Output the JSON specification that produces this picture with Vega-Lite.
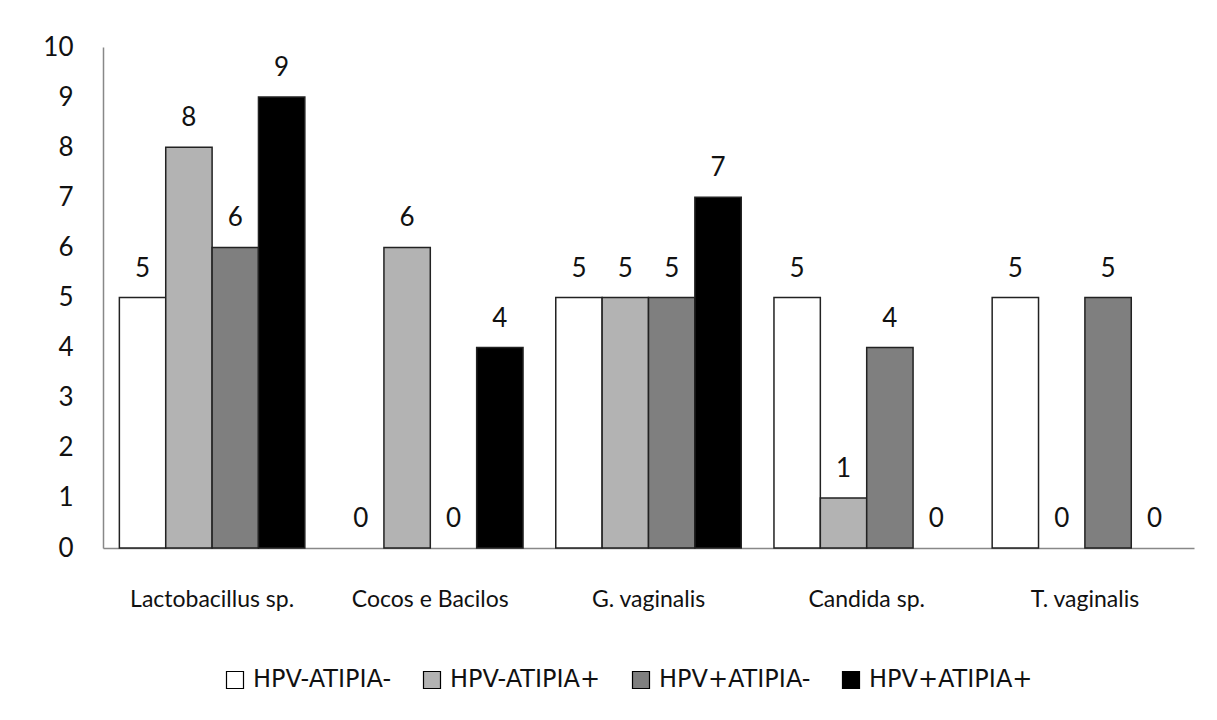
{
  "$schema": "https://vega.github.io/schema/vega-lite/v6.json",
  "width": 1091,
  "height": 501,
  "autosize": {"type": "none"},
  "padding": {"left": 103, "top": 47, "right": 23, "bottom": 172},
  "background": "white",
  "config": {
    "view": {"stroke": null},
    "font": "Lato",
    "axis": {"grid": false, "ticks": false, "domainColor": "#888888", "domainWidth": 1.5, "labelColor": "#111111", "labelFont": "Lato", "labelFontSize": 23, "title": null}
  },
  "data": {
    "values": [
      {"cat": "Lactobacillus sp.", "grupo": "HPV-ATIPIA-", "n": 5},
      {"cat": "Lactobacillus sp.", "grupo": "HPV-ATIPIA+", "n": 8},
      {"cat": "Lactobacillus sp.", "grupo": "HPV+ATIPIA-", "n": 6},
      {"cat": "Lactobacillus sp.", "grupo": "HPV+ATIPIA+", "n": 9},
      {"cat": "Cocos e Bacilos", "grupo": "HPV-ATIPIA-", "n": 0},
      {"cat": "Cocos e Bacilos", "grupo": "HPV-ATIPIA+", "n": 6},
      {"cat": "Cocos e Bacilos", "grupo": "HPV+ATIPIA-", "n": 0},
      {"cat": "Cocos e Bacilos", "grupo": "HPV+ATIPIA+", "n": 4},
      {"cat": "G. vaginalis", "grupo": "HPV-ATIPIA-", "n": 5},
      {"cat": "G. vaginalis", "grupo": "HPV-ATIPIA+", "n": 5},
      {"cat": "G. vaginalis", "grupo": "HPV+ATIPIA-", "n": 5},
      {"cat": "G. vaginalis", "grupo": "HPV+ATIPIA+", "n": 7},
      {"cat": "Candida sp.", "grupo": "HPV-ATIPIA-", "n": 5},
      {"cat": "Candida sp.", "grupo": "HPV-ATIPIA+", "n": 1},
      {"cat": "Candida sp.", "grupo": "HPV+ATIPIA-", "n": 4},
      {"cat": "Candida sp.", "grupo": "HPV+ATIPIA+", "n": 0},
      {"cat": "T. vaginalis", "grupo": "HPV-ATIPIA-", "n": 5},
      {"cat": "T. vaginalis", "grupo": "HPV-ATIPIA+", "n": 0},
      {"cat": "T. vaginalis", "grupo": "HPV+ATIPIA-", "n": 5},
      {"cat": "T. vaginalis", "grupo": "HPV+ATIPIA+", "n": 0}
    ]
  },
  "encoding": {
    "x": {
      "field": "cat", "type": "nominal", "sort": null,
      "scale": {"paddingInner": 0.15, "paddingOuter": 0.075},
      "axis": {"labelAngle": 0, "labelPadding": 40, "domainColor": "#888888"}
    },
    "xOffset": {
      "field": "grupo", "type": "nominal",
      "sort": ["HPV-ATIPIA-", "HPV-ATIPIA+", "HPV+ATIPIA-", "HPV+ATIPIA+"],
      "scale": {"domain": ["HPV-ATIPIA-", "HPV-ATIPIA+", "HPV+ATIPIA-", "HPV+ATIPIA+"], "paddingInner": 0, "paddingOuter": 0}
    },
    "y": {
      "field": "n", "type": "quantitative",
      "scale": {"domain": [0, 10], "nice": false},
      "axis": {"values": [0,1,2,3,4,5,6,7,8,9,10], "labelPadding": 30, "labelFontSize": 26}
    }
  },
  "layer": [
    {
      "transform": [{"filter": "datum.n > 0"}],
      "mark": {"type": "bar", "stroke": "#222222", "strokeWidth": 1.5},
      "encoding": {
        "color": {
          "field": "grupo", "type": "nominal",
          "sort": ["HPV-ATIPIA-", "HPV-ATIPIA+", "HPV+ATIPIA-", "HPV+ATIPIA+"],
          "scale": {"domain": ["HPV-ATIPIA-", "HPV-ATIPIA+", "HPV+ATIPIA-", "HPV+ATIPIA+"], "range": ["#ffffff", "#b3b3b3", "#7f7f7f", "#000000"]},
          "legend": {
            "orient": "none", "legendX": 120, "legendY": 621, "direction": "horizontal", "title": null,
            "symbolType": "square", "symbolSize": 289, "symbolStrokeColor": "#000000", "symbolStrokeWidth": 1.2,
            "symbolOpacity": 1,
            "labelFont": "DejaVu Sans",
            "labelFontSize": 24, "labelColor": "#111111", "labelOffset": 6,
            "columnPadding": 28, "labelLimit": 300
          }
        }
      }
    },
    {
      "mark": {"type": "text", "baseline": "bottom", "dy": -16, "fontSize": 26, "color": "#111111", "font": "Lato"},
      "encoding": {"text": {"field": "n", "type": "quantitative"}}
    }
  ]
}
